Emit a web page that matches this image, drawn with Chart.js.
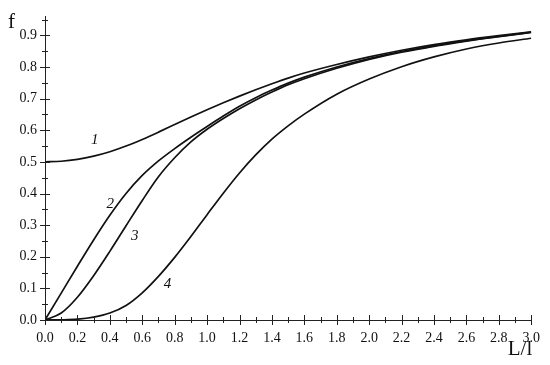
<!DOCTYPE html>
<html>
<head>
<meta charset="utf-8">
<script src="https://cdn.jsdelivr.net/npm/chart.js@4.4.1/dist/chart.umd.min.js"></script>
<style>
  html, body { margin: 0; padding: 0; background: #fff; }
  #wrap { width: 550px; height: 365px; }
</style>
</head>
<body>
<div id="wrap"><canvas id="chart"></canvas></div>
<script>
// L/l values and f for the four curves
const lValues = [0, 0.1, 0.2, 0.3, 0.4, 0.5, 0.6, 0.7, 0.8, 0.9, 1.0, 1.1, 1.2, 1.3, 1.4, 1.5, 1.6, 1.8, 2.0, 2.2, 2.4, 2.6, 2.8, 3.0];
const curve1 = [0.5, 0.502, 0.508, 0.518, 0.532, 0.55, 0.571, 0.594, 0.618, 0.642, 0.665, 0.687, 0.708, 0.728, 0.747, 0.765, 0.781, 0.808, 0.832, 0.853, 0.871, 0.886, 0.899, 0.911];
const curve2 = [0, 0.085, 0.17, 0.253, 0.331, 0.4, 0.457, 0.503, 0.542, 0.578, 0.612, 0.645, 0.676, 0.703, 0.727, 0.749, 0.768, 0.8, 0.827, 0.849, 0.867, 0.883, 0.897, 0.91];
const curve3 = [0, 0.022, 0.072, 0.14, 0.217, 0.298, 0.378, 0.453, 0.513, 0.563, 0.603, 0.637, 0.668, 0.696, 0.721, 0.744, 0.763, 0.796, 0.824, 0.847, 0.865, 0.882, 0.896, 0.909];
const curve4 = [0, 0.0005, 0.0025, 0.009, 0.022, 0.046, 0.086, 0.138, 0.198, 0.264, 0.333, 0.401, 0.465, 0.522, 0.572, 0.614, 0.651, 0.714, 0.762, 0.801, 0.832, 0.857, 0.876, 0.891];

const curveNames = ['1', '2', '3', '4'];
// where the curve numbers sit, in data units
const nameL = [0.307, 0.402, 0.553, 0.756];
const nameF = [0.569, 0.366, 0.266, 0.115];

const xTickLabels = [0, 0.2, 0.4, 0.6, 0.8, 1.0, 1.2, 1.4, 1.6, 1.8, 2.0, 2.2, 2.4, 2.6, 2.8, 3.0];
const yTickLabels = [0, 0.1, 0.2, 0.3, 0.4, 0.5, 0.6, 0.7, 0.8, 0.9];

const serif = '"Liberation Serif", "DejaVu Serif", serif';

function toPoints(ys) {
  return lValues.map((l, i) => ({ x: l, y: ys[i] }));
}

// crossing tick marks, curve numbers, axis titles
const decorPlugin = {
  id: 'decor',
  afterDraw(chart) {
    const ctx = chart.ctx;
    const xs = chart.scales.x;
    const ys = chart.scales.y;
    const area = chart.chartArea;
    ctx.save();
    ctx.strokeStyle = '#222';
    ctx.lineWidth = 1;
    ctx.beginPath();
    for (let k = 0; k <= 30; k++) {
      const px = Math.round(xs.getPixelForValue(k * 0.1)) + 0.5;
      const len = k % 2 === 0 ? 5 : 3;
      ctx.moveTo(px, area.bottom - len);
      ctx.lineTo(px, area.bottom + len);
    }
    for (let k = 0; k <= 19; k++) {
      const py = Math.round(ys.getPixelForValue(k * 0.05)) + 0.5;
      const len = k % 2 === 0 ? 5 : 3;
      ctx.moveTo(area.left - len, py);
      ctx.lineTo(area.left + len, py);
    }
    ctx.stroke();

    ctx.fillStyle = '#111';
    ctx.font = 'italic 15px ' + serif;
    ctx.textAlign = 'center';
    ctx.textBaseline = 'middle';
    curveNames.forEach((n, i) => {
      ctx.fillText(n, xs.getPixelForValue(nameL[i]), ys.getPixelForValue(nameF[i]));
    });

    ctx.font = '21px ' + serif;
    ctx.textBaseline = 'alphabetic';
    ctx.textAlign = 'left';
    ctx.fillText('f', area.left - 37, 28);
    ctx.textAlign = 'right';
    ctx.fillText('L/l', area.right + 1, 355);
    ctx.restore();
  }
};

const lineStyle = {
  borderColor: '#111',
  borderWidth: 1.7,
  pointRadius: 0,
  fill: false,
  cubicInterpolationMode: 'monotone'
};

new Chart(document.getElementById('chart'), {
  type: 'line',
  data: {
    datasets: [
      { label: '1', data: toPoints(curve1), ...lineStyle },
      { label: '2', data: toPoints(curve2), ...lineStyle },
      { label: '3', data: toPoints(curve3), ...lineStyle },
      { label: '4', data: toPoints(curve4), ...lineStyle }
    ]
  },
  options: {
    responsive: true,
    maintainAspectRatio: false,
    animation: false,
    layout: { padding: { top: 12, right: 17, left: 0, bottom: 0 } },
    plugins: {
      legend: { display: false },
      tooltip: { enabled: false }
    },
    scales: {
      x: {
        type: 'linear',
        min: 0,
        max: 3,
        afterBuildTicks: (scale) => { scale.ticks = xTickLabels.map(v => ({ value: v })); },
        afterFit: (scale) => { scale.height = 45; },
        grid: { display: false, drawTicks: false },
        border: { display: true, color: '#222', width: 1 },
        ticks: {
          padding: 10,
          maxRotation: 0,
          autoSkip: false,
          color: '#111',
          font: { family: serif, size: 14 },
          callback: (v) => Number(v).toFixed(1)
        }
      },
      y: {
        type: 'linear',
        min: 0,
        max: 0.96,
        afterBuildTicks: (scale) => { scale.ticks = yTickLabels.map(v => ({ value: v })); },
        afterFit: (scale) => { scale.width = 45; },
        grid: { display: false, drawTicks: false },
        border: { display: true, color: '#222', width: 1 },
        ticks: {
          padding: 8,
          autoSkip: false,
          color: '#111',
          font: { family: serif, size: 14 },
          callback: (v) => Number(v).toFixed(1)
        }
      }
    }
  },
  plugins: [decorPlugin]
});
</script>
</body>
</html>
